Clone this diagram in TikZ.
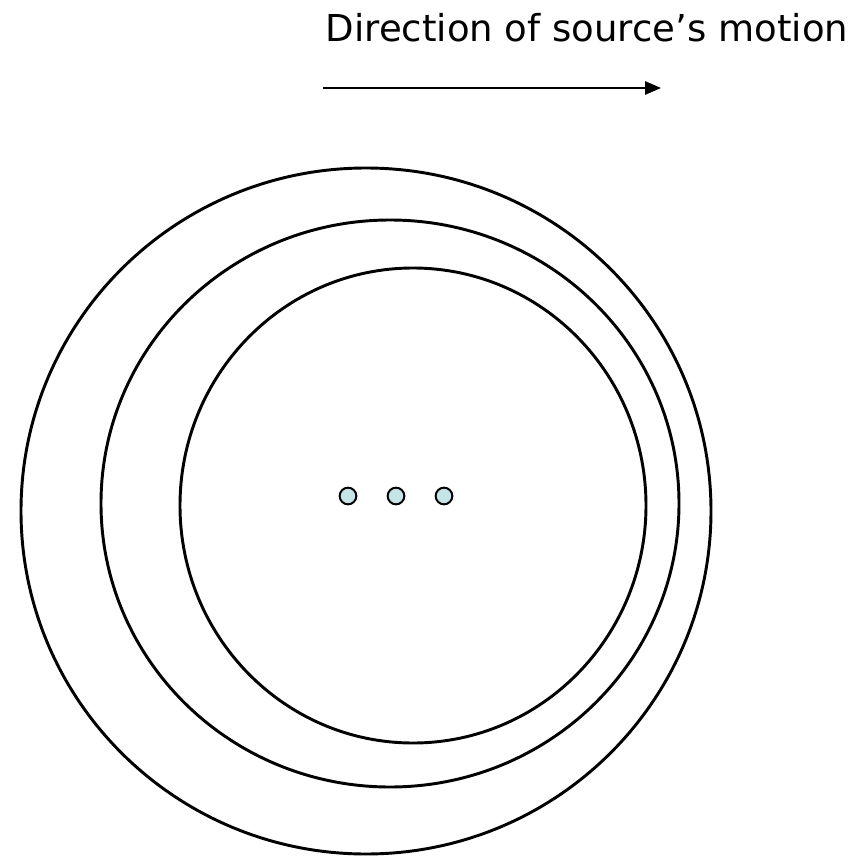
\documentclass[tikz,border=0pt]{standalone}
\usepackage{fontspec}
\setmainfont{DejaVu Sans}
\usetikzlibrary{arrows.meta,positioning}
\definecolor{dotfill}{RGB}{198,229,232}
\tikzset{wave/.style={draw,line width=2.2pt},
  src/.style={circle,draw,line width=1.5pt,fill=dotfill,minimum size=12.5pt,inner sep=0pt},
  arr/.style={-{Triangle[length=12pt,width=10pt]},line width=1.5pt}}

\begin{document}
\begin{tikzpicture}[x=0.75pt,y=-0.75pt]
\useasboundingbox (0,0) rectangle (868,856);
\node[font=\fontsize{27.8}{32}\selectfont,anchor=base] (lbl) at (587,42) {Direction of source’s motion};
\coordinate (a0) at (323,88);
\coordinate (a1) at (661,88);
\draw[arr] (a0) -- (a1);
% wavefronts
\draw[wave] (366,511) ellipse [x radius=345,y radius=343];
\draw[wave] (390,503.5) ellipse [x radius=289,y radius=283.5];
\draw[wave] (413,505.5) ellipse [x radius=233,y radius=237.5];
% source positions
\node[src] (s1) at (348,496) {};
\node[src] (s2) at (396,496) {};
\node[src] (s3) at (444,496) {};
\end{tikzpicture}
\end{document}
